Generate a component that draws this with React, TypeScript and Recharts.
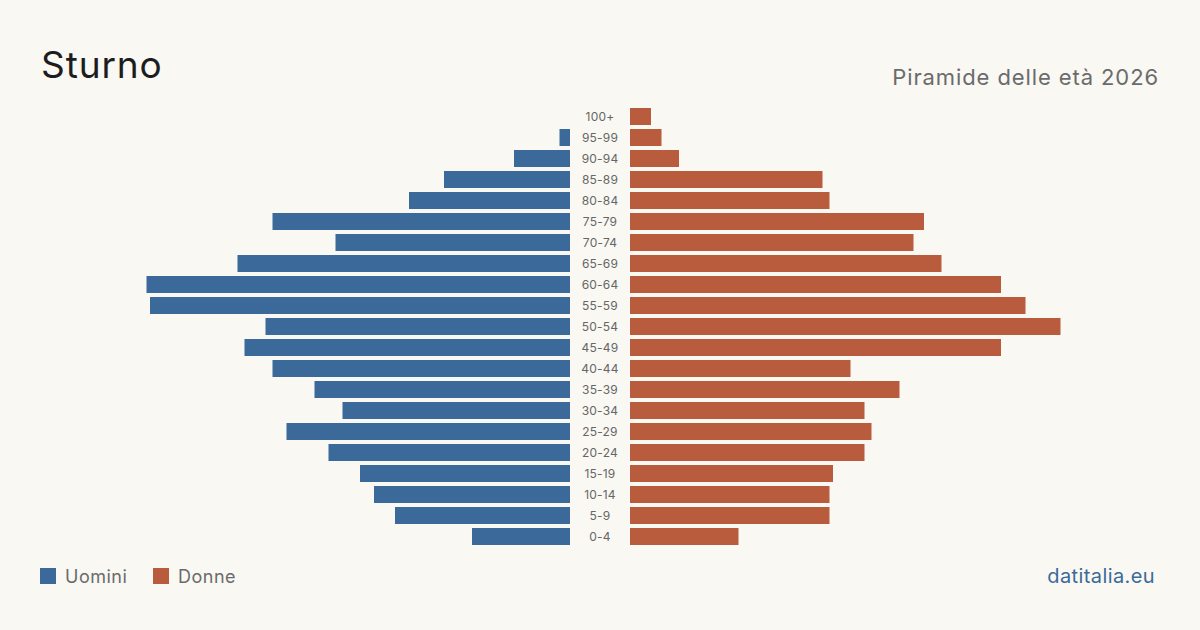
import React from "react";
import { BarChart, Bar, XAxis, YAxis } from "recharts";

// Age groups, top of the pyramid first
const ageGroups = [
  "100+", "95-99", "90-94", "85-89", "80-84", "75-79", "70-74", "65-69",
  "60-64", "55-59", "50-54", "45-49", "40-44", "35-39", "30-34", "25-29",
  "20-24", "15-19", "10-14", "5-9", "0-4",
];

// Residents by age group
const men = [
  0, 3, 16, 36, 46, 85, 67, 95, 121, 120, 87, 93, 85, 73, 65, 81, 69, 60, 56, 50, 28,
];
const women = [
  6, 9, 14, 55, 57, 84, 81, 89, 106, 113, 123, 106, 63, 77, 67, 69, 67, 58, 57, 57, 31,
];

const rows = ageGroups.map((age, i) => ({ age, men: men[i], women: women[i] }));

const BLUE = "#3b6a9a";
const ORANGE = "#b95c3d";
const BG = "#f9f8f3";
const FONT = "Inter, 'Noto Sans', sans-serif";
const MAX = 130;

const AgeTick = (props: any) => {
  const { x, y, payload } = props;
  return (
    <text
      x={x - 30}
      y={y}
      dy="0.35em"
      textAnchor="middle"
      fontFamily={FONT}
      fontSize={12}
      letterSpacing={0.2}
      fill="#666"
    >
      {payload.value}
    </text>
  );
};

export default function App() {
  return (
    <div
      style={{
        position: "absolute",
        left: 0,
        top: 0,
        width: 1200,
        height: 630,
        background: BG,
        overflow: "hidden",
        fontFamily: FONT,
      }}
    >
      <svg
        width={1200}
        height={630}
        style={{ position: "absolute", left: 0, top: 0 }}
      >
        <text
          x={41}
          y={78}
          fontFamily={FONT}
          fontSize={37}
          letterSpacing={0.9}
          fill="#1d1d1d"
        >
          Sturno
        </text>
        <text
          x={1159}
          y={85}
          textAnchor="end"
          fontFamily={FONT}
          fontSize={22}
          letterSpacing={0.9}
          fill="#6b6b6b"
        >
          Piramide delle età 2026
        </text>
        <rect x={40} y={568} width={16} height={16} fill={BLUE} />
        <text
          x={65}
          y={583}
          fontFamily={FONT}
          fontSize={18}
          letterSpacing={0.5}
          fill="#6b6b6b"
        >
          Uomini
        </text>
        <rect x={153} y={568} width={16} height={16} fill={ORANGE} />
        <text
          x={178}
          y={583}
          fontFamily={FONT}
          fontSize={18}
          letterSpacing={0.5}
          fill="#6b6b6b"
        >
          Donne
        </text>
        <text
          x={1155}
          y={583}
          textAnchor="end"
          fontFamily={FONT}
          fontSize={20}
          letterSpacing={0.4}
          fill={BLUE}
        >
          datitalia.eu
        </text>
      </svg>

      <div style={{ position: "absolute", left: 115, top: 106 }}>
        <BarChart
          width={455}
          height={441}
          data={rows}
          layout="vertical"
          margin={{ top: 0, right: 0, bottom: 0, left: 0 }}
        >
          <XAxis type="number" domain={[0, MAX]} reversed hide />
          <YAxis type="category" dataKey="age" hide />
          <Bar dataKey="men" fill={BLUE} barSize={17} isAnimationActive={false} />
        </BarChart>
      </div>

      <div style={{ position: "absolute", left: 570, top: 106 }}>
        <BarChart
          width={515}
          height={441}
          data={rows}
          layout="vertical"
          margin={{ top: 0, right: 0, bottom: 0, left: 0 }}
        >
          <XAxis type="number" domain={[0, MAX]} hide />
          <YAxis
            type="category"
            dataKey="age"
            width={60}
            axisLine={false}
            tickLine={false}
            tickSize={0}
            tickMargin={0}
            interval={0}
            tick={<AgeTick />}
          />
          <Bar dataKey="women" fill={ORANGE} barSize={17} isAnimationActive={false} />
        </BarChart>
      </div>
    </div>
  );
}
